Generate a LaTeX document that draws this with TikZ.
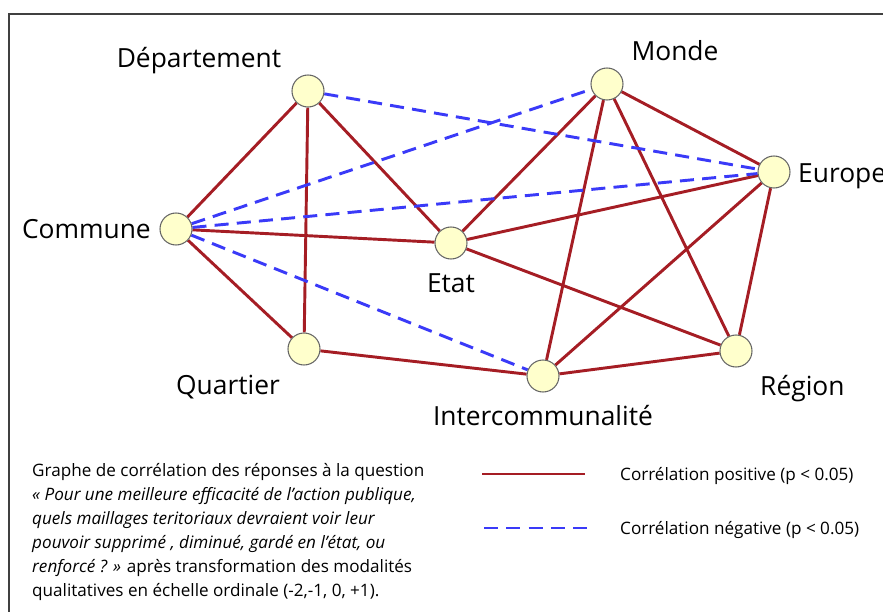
\documentclass[tikz,border=0pt]{standalone}
\usepackage{fontspec}
\setmainfont{Open Sans}
\usetikzlibrary{backgrounds}

\definecolor{posred}{HTML}{A51D24}
\definecolor{negblue}{HTML}{3A3AF8}
\definecolor{dotfill}{HTML}{FFFFCC}

\newcommand*{\labsize}{\fontsize{22.5}{27}\selectfont}
\newcommand*{\txtsize}{\fontsize{14.6}{20.4}\selectfont}

\begin{document}
\begin{tikzpicture}
[
	x=0.03cm,
	y=-0.03cm,
	dot/.style={circle,draw=black!60,fill=dotfill,line width=0.9pt,inner sep=0pt,minimum size=0.96cm},
	lab/.style={font=\labsize,inner sep=0pt},
	txt/.style={font=\txtsize,inner sep=0pt,anchor=base west},
	posline/.style={posred,line width=2.5pt},
	negline/.style={negblue,line width=2.5pt,dash pattern=on 12pt off 7pt}
]

	\useasboundingbox (0,0) rectangle (883,612);

	% frame
	\draw[black!75,line width=1.1pt] (9,612) -- (9,14) -- (883,14);

	% points
	\node[dot] at (308,91) (dep) {};
	\node[dot] at (176,229) (com) {};
	\node[dot] at (451,243) (etat) {};
	\node[dot] at (607,84) (monde) {};
	\node[dot] at (774,172) (europe) {};
	\node[dot] at (304,349) (quart) {};
	\node[dot] at (543,376) (inter) {};
	\node[dot] at (736,351) (region) {};

	% names
	\node[lab,anchor=base] at (199,67) (deptxt) {Département};
	\node[lab,anchor=base] at (675,60) (mondetxt) {Monde};
	\node[lab,anchor=base west] at (798,182) (europetxt) {Europe};
	\node[lab,anchor=base east] at (151,238) (comtxt) {Commune};
	\node[lab,anchor=base] at (451,292) (etattxt) {Etat};
	\node[lab,anchor=base] at (228,394) (quarttxt) {Quartier};
	\node[lab,anchor=base] at (543,425) (intertxt) {Intercommunalité};
	\node[lab,anchor=base west] at (760,395) (regiontxt) {Région};

	% correlations
	\begin{pgfonlayer}{background}
		\draw[posline] (dep) -- (com);
		\draw[posline] (dep) -- (quart);
		\draw[posline] (dep) -- (etat);
		\draw[posline] (com) -- (etat);
		\draw[posline] (com) -- (quart);
		\draw[posline] (quart) -- (inter);
		\draw[posline] (etat) -- (monde);
		\draw[posline] (etat) -- (europe);
		\draw[posline] (etat) -- (region);
		\draw[posline] (monde) -- (europe);
		\draw[posline] (monde) -- (inter);
		\draw[posline] (monde) -- (region);
		\draw[posline] (europe) -- (inter);
		\draw[posline] (europe) -- (region);
		\draw[posline] (inter) -- (region);

		\draw[negline] (dep) -- (europe);
		\draw[negline] (com) -- (monde);
		\draw[negline] (com) -- (europe);
		\draw[negline] (com) -- (inter);
	\end{pgfonlayer}

	% caption
	\node[txt] at (32,476) (cap1) {Graphe de corrélation des réponses à la question};
	\node[txt] at (32,500) (cap2) {\itshape « Pour une meilleure efficacité de l’action publique,};
	\node[txt] at (32,524) (cap3) {\itshape quels maillages teritoriaux devraient voir leur};
	\node[txt] at (32,548) (cap4) {\itshape pouvoir supprimé , diminué, gardé en l’état, ou};
	\node[txt] at (32,572) (cap5) {\textit{renforcé ? »} après transformation des modalités};
	\node[txt] at (32,596) (cap6) {qualitatives en échelle ordinale (-2,-1, 0, +1).};

	% legend
	\draw[posline] (482,474) -- (585,474);
	\draw[negline] (484,528) -- (588,528);
	\node[txt] at (620,480) (postxt) {Corrélation positive (p < 0.05)};
	\node[txt] at (620,534) (negtxt) {Corrélation négative (p < 0.05)};

\end{tikzpicture}
\end{document}
